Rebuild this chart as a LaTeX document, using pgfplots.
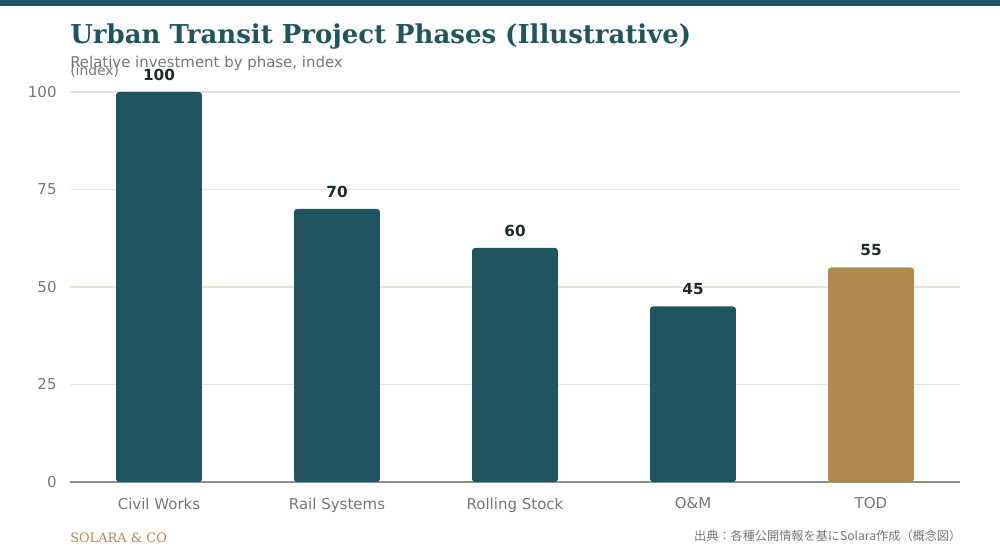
\documentclass[border=0pt]{standalone}
\usepackage{pgfplots}
\pgfplotsset{compat=1.18}
\usepackage{fontspec}
\setmainfont{DejaVu Sans}
\newfontfamily\titlefont{DejaVu Serif}
\newfontfamily\footserif{DejaVu Serif}
\newfontfamily\cjk{Noto Sans CJK JP}
\definecolor{teal}{HTML}{20545F}
\definecolor{gold}{HTML}{B0894F}
\definecolor{gridc}{HTML}{E8E4DA}
\definecolor{axisc}{HTML}{8A918A}
\definecolor{tickc}{HTML}{6E7A76}
\definecolor{valc}{HTML}{1E2B2B}
\begin{document}
\begin{tikzpicture}
\path[use as bounding box] (0pt,0pt) rectangle (720pt,403.2pt);
\fill[teal] (0pt,398.88pt) rectangle (720pt,403.2pt);
\node[anchor=base west,inner sep=0,text=teal,font=\titlefont\bfseries\fontsize{18.7}{20}\selectfont] at (50.4pt,371.52pt) {Urban Transit Project Phases (Illustrative)};
\node[anchor=base west,inner sep=0,text=tickc,font=\fontsize{10.75}{12}\selectfont] at (50.4pt,354.24pt) {Relative investment by phase, index};
\node[anchor=base west,inner sep=0,text=tickc,font=\fontsize{10}{12}\selectfont] at (50.4pt,348.48pt) {(index)};
\begin{axis}[
  at={(50.4pt,56.16pt)}, anchor=south west,
  scale only axis, width=640.8pt, height=280.8pt,
  xmin=-0.5, xmax=4.5, ymin=0, ymax=100,
  clip=false,
  axis x line=bottom, axis y line=left,
  x axis line style={draw=axisc,line width=1.3pt,-},
  y axis line style={draw=none},
  ytick={0,25,50,75,100},
  xtick={0,1,2,3,4},
  xticklabels={Civil Works,Rail Systems,Rolling Stock,O\&M,TOD},
  tick style={draw=none},
  ymajorgrids, grid style={gridc,line width=0.8pt},
  ticklabel style={text=tickc,font=\fontsize{10.8}{12}\selectfont},
  yticklabel style={xshift=-4pt},
  xticklabel style={yshift=-3.5pt},
  /pgf/number format/assume math mode=true,
  ybar, bar width=61.9pt, bar shift=0pt,
  nodes near coords,
  every node near coord/.append style={text=valc,font=\bfseries\fontsize{11}{12}\selectfont,yshift=4.6pt},
]
\addplot[draw=none,fill=teal,rounded corners=2.2pt] coordinates {(0,100) (1,70) (2,60) (3,45)};
\addplot[draw=none,fill=gold,rounded corners=2.2pt] coordinates {(4,55)};
\end{axis}
\node[anchor=base west,inner sep=0,text=gold,font=\footserif\fontsize{9.3}{11}\selectfont] at (50.4pt,12.24pt) {SOLARA \& CO};
\node[anchor=base east,inner sep=0,text=tickc,font=\cjk\fontsize{8.75}{11}\selectfont] at (692.3pt,13.68pt) {出典：各種公開情報を基にSolara作成（概念図）};
\end{tikzpicture}
\end{document}
